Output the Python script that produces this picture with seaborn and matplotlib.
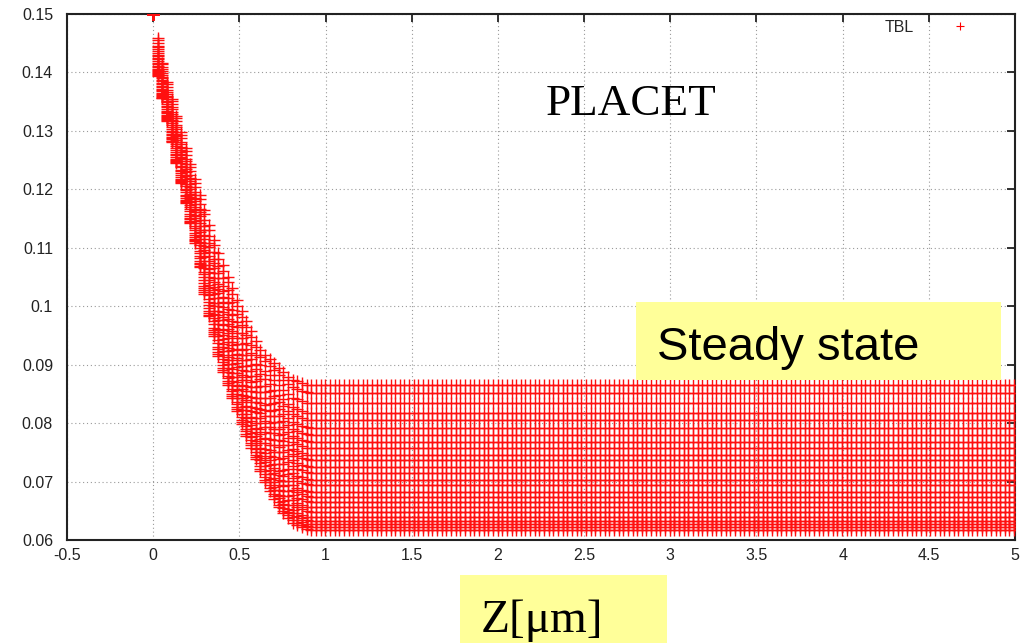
import numpy as np
import pandas as pd
import matplotlib
matplotlib.use("Agg")
import matplotlib.pyplot as plt
from matplotlib.lines import Line2D
from matplotlib.patches import Rectangle
import seaborn as sns

# ---------------- data ----------------
# steady-state level of each bunch curve (top -> bottom)
steady_levels = [0.0865, 0.0852, 0.0834, 0.0817, 0.0805, 0.0792, 0.0780,
                 0.0768, 0.0757, 0.0745, 0.0737, 0.0725, 0.0715, 0.0703,
                 0.0694, 0.0682, 0.0674, 0.0665, 0.0656, 0.0648, 0.0639,
                 0.0633, 0.0627, 0.0622, 0.0617]
# envelope of the transient part: lowest curve
bottom_z = [0.0, 0.023, 0.093, 0.17, 0.25, 0.31, 0.39, 0.51, 0.645, 0.74, 0.82, 0.90, 5.0]
bottom_y = [0.150, 0.140, 0.130, 0.120, 0.110, 0.100, 0.090, 0.080, 0.070, 0.065, 0.0627, 0.0617, 0.0617]
# envelope of the transient part: highest curve
top_z = [0.0, 0.065, 0.16, 0.26, 0.365, 0.50, 0.62, 0.71, 0.80, 0.90, 5.0]
top_y = [0.150, 0.140, 0.130, 0.120, 0.110, 0.100, 0.0925, 0.0900, 0.0875, 0.0865, 0.0865]
z_step = 0.027
z_max = 5.0

x_ticks = [-0.5, 0, 0.5, 1, 1.5, 2, 2.5, 3, 3.5, 4, 4.5, 5]
x_tick_labels = ["-0.5", "0", "0.5", "1", "1.5", "2", "2.5", "3", "3.5", "4", "4.5", "5"]
y_ticks = [0.06, 0.07, 0.08, 0.09, 0.1, 0.11, 0.12, 0.13, 0.14, 0.15]
y_tick_labels = ["0.06", "0.07", "0.08", "0.09", "0.1", "0.11", "0.12", "0.13", "0.14", "0.15"]

# ---------------- build table ----------------
z = np.arange(0.0, z_max + 1e-9, z_step)
yb = np.interp(z, bottom_z, bottom_y)
yt = np.interp(z, top_z, top_y)
lo, hi = min(steady_levels), max(steady_levels)
rows = []
for i, lev in enumerate(steady_levels):
    f = (lev - lo) / (hi - lo)
    y = yb + f * (yt - yb)
    for zz, yy in zip(z, y):
        rows.append((i, zz, yy))
df = pd.DataFrame(rows, columns=["bunch", "z", "y"])

# ---------------- figure ----------------
sns.set_theme(style="white")
plt.rcParams["font.family"] = ["Liberation Sans", "DejaVu Sans"]

W, H = 1023, 643
fig = plt.figure(figsize=(W / 100, H / 100), dpi=100)
ax = fig.add_axes([67 / W, 1 - 540 / H, (1015 - 67) / W, (540 - 14) / H])

sns.scatterplot(data=df, x="z", y="y", marker="+", color="#ff1010",
                edgecolor="#ff1010", s=70, linewidth=1.0,
                legend=False, ax=ax, zorder=3)

ax.set_xlim(-0.5, 5)
ax.set_ylim(0.06, 0.15)
ax.set_xticks(x_ticks)
ax.set_xticklabels(x_tick_labels)
ax.set_yticks(y_ticks)
ax.set_yticklabels(y_tick_labels)
ax.set_xlabel("")
ax.set_ylabel("")

ax.grid(True, linestyle=(0, (1, 2.5)), color="#9a9a9a", linewidth=0.8)
ax.set_axisbelow(True)
for sp in ax.spines.values():
    sp.set_color("#222222")
    sp.set_linewidth(1.5)
    sp.set_visible(True)
ax.tick_params(axis="both", direction="in", length=6, width=1.3,
               top=True, right=True, labelsize=11.5, colors="#222222")
ax.tick_params(axis="y", pad=10)
ax.tick_params(axis="x", pad=6)

# legend (gnuplot style)
handle = Line2D([], [], marker="+", color="#ff0000", linestyle="none",
                markersize=6, mew=0.8)
ax.legend([handle], ["TBL"], loc="upper right",
          bbox_to_anchor=((968 - 67) / 948, (540 - 20) / 526),
          frameon=False, markerfirst=False, fontsize=11.5,
          handlelength=1.0, handletextpad=2.4, borderpad=0, borderaxespad=0)

# annotations
fig.text(631 / W, 1 - 115 / H, "PLACET", family=["Liberation Serif", "DejaVu Serif"],
         fontsize=32.5, ha="center", va="baseline", color="black", zorder=7)

fig.add_artist(Rectangle((636 / W, 1 - 380 / H), (1001 - 636) / W, (380 - 302) / H,
                         transform=fig.transFigure, facecolor="#ffff99",
                         edgecolor="none", zorder=5))
fig.text(657 / W, 1 - 360 / H, "Steady state", family=["Liberation Sans", "DejaVu Sans"],
         fontsize=34, ha="left", va="baseline", color="black", zorder=6)

fig.add_artist(Rectangle((460 / W, 0), (667 - 460) / W, (643 - 575) / H,
                         transform=fig.transFigure, facecolor="#ffff99",
                         edgecolor="none", zorder=5))
fig.text(481 / W, 1 - 632 / H, "Z[\u03bcm]", family=["Liberation Serif", "DejaVu Serif"],
         fontsize=34, ha="left", va="baseline", color="black", zorder=6)

fig.savefig("out.png", dpi=100)
